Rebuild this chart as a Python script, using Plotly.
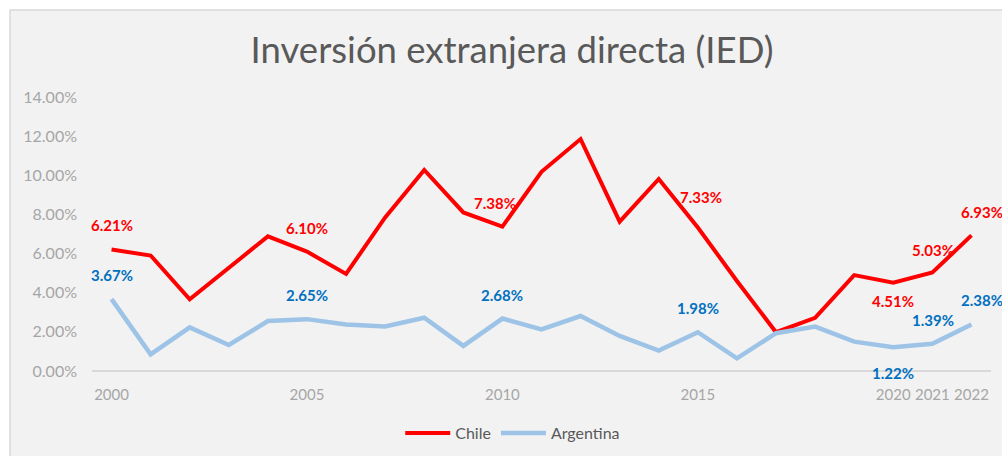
import plotly.graph_objects as go

years = list(range(2000, 2023))
chile = [6.21, 5.9, 3.66, 5.25, 6.88, 6.10, 4.96, 7.85, 10.27, 8.1, 7.38, 10.18, 11.85,
         7.63, 9.81, 7.33, 4.6, 1.98, 2.72, 4.9, 4.51, 5.03, 6.93]
argentina = [3.67, 0.85, 2.23, 1.33, 2.55, 2.65, 2.38, 2.27, 2.72, 1.28, 2.68, 2.13, 2.81,
             1.79, 1.04, 1.98, 0.65, 1.93, 2.27, 1.5, 1.22, 1.39, 2.38]
tick_years = [2000, 2005, 2010, 2015, 2020, 2021, 2022]
label_years = [2000, 2005, 2010, 2015, 2020, 2021, 2022]

# label offsets (px) for each labelled year
chile_shift = {2000: (0, 24), 2005: (0, 24), 2010: (-7, 24), 2015: (3, 31),
               2020: (0, -18), 2021: (1, 23), 2022: (11, 23)}
arg_shift = {2000: (0, 24), 2005: (0, 24), 2010: (0, 24), 2015: (0, 24),
             2020: (0, -26), 2021: (1, 24), 2022: (11, 24)}

RED = "#ff0000"
BLUE_LINE = "#9dc3e6"
BLUE_TEXT = "#0070c0"
GREY = "#a6a6a6"
DARK = "#595959"
FONT = "Lato"

fig = go.Figure()
fig.add_trace(go.Scatter(x=years, y=chile, mode="lines", name="Chile",
                         line={"color": RED, "width": 4}))
fig.add_trace(go.Scatter(x=years, y=argentina, mode="lines", name="Argentina",
                         line={"color": BLUE_LINE, "width": 4.5}))

annotations = []
for series, shifts, color in [(chile, chile_shift, RED), (argentina, arg_shift, BLUE_TEXT)]:
    for yr in label_years:
        v = series[years.index(yr)]
        dx, dy = shifts[yr]
        annotations.append(dict(
            x=yr, y=v, text=f"{v:.2f}%", showarrow=False, xshift=dx, yshift=dy,
            font={"color": color, "size": 15, "family": FONT, "weight": "bold"},
        ))

fig.update_layout(
    width=1002,
    height=456,
    paper_bgcolor="#ffffff",
    plot_bgcolor="#f2f2f2",
    font={"family": FONT, "color": GREY, "size": 15},
    margin={"l": 92, "r": 11, "t": 97, "b": 85, "autoexpand": False},
    title={"text": "Inversión extranjera directa (IED)", "x": 0.511, "xanchor": "center",
           "y": 0.89, "yanchor": "middle",
           "font": {"size": 36.5, "color": DARK, "family": FONT}},
    showlegend=True,
    legend={"orientation": "h", "x": 0.468, "xanchor": "center", "itemwidth": 45,
            "yref": "container", "y": 0.05, "yanchor": "middle",
            "font": {"color": DARK, "size": 16}, "bgcolor": "rgba(0,0,0,0)"},
    annotations=annotations,
    shapes=[dict(type="rect", xref="paper", yref="paper", x0=-0.0912, x1=1.03,
                 y0=-0.4, y1=1.3175, fillcolor="#f2f2f2",
                 line={"color": "#d9d9d9", "width": 1.5}, layer="below")],
)
fig.update_xaxes(range=[1999.5, 2022.5], tickvals=tick_years, ticktext=[str(t) for t in tick_years],
                 showgrid=False, zeroline=False, showline=False, ticks="", ticklabelstandoff=13,
                 tickfont={"color": GREY, "size": 15})
fig.update_yaxes(range=[0, 14], dtick=2, tickformat=".2f", ticksuffix="%",
                 showgrid=False, zeroline=True, zerolinecolor="#d9d9d9", zerolinewidth=1.5,
                 showline=False, ticks="", ticklabelstandoff=14, tickfont={"color": GREY, "size": 16})

fig.write_html("out.html", config={"displayModeBar": False},
               post_script="document.body.style.margin='0';")
